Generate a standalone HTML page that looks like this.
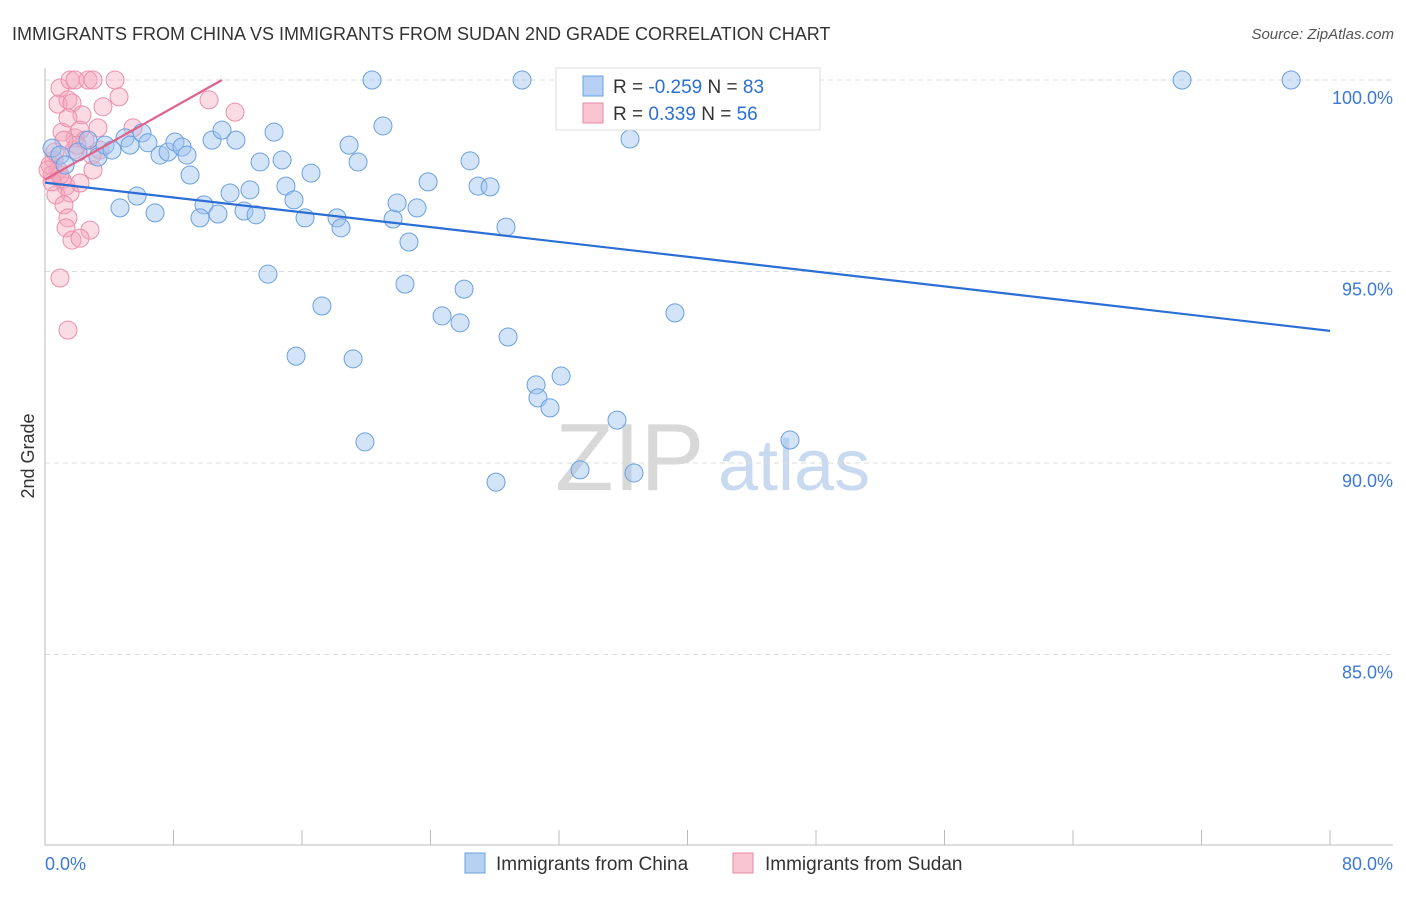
<!DOCTYPE html>
<html><head><meta charset="utf-8"><style>
body{margin:0;background:#fff;font-family:"Liberation Sans",sans-serif}
svg text{font-family:"Liberation Sans",sans-serif}
</style></head><body>
<svg id="chart" width="1406" height="892">
<text x="12" y="40" font-size="18" fill="#333">IMMIGRANTS FROM CHINA VS IMMIGRANTS FROM SUDAN 2ND GRADE CORRELATION CHART</text>
<text x="1394" y="39" font-size="15" fill="#555" font-style="italic" text-anchor="end">Source: ZipAtlas.com</text>
<text x="34" y="456" font-size="18" fill="#333" text-anchor="middle" transform="rotate(-90 34 456)">2nd Grade</text>
<text x="555" y="490" font-size="96" fill="#d8d8d8" font-family="Liberation Serif">ZIP</text>
<text x="718" y="490" font-size="72" fill="#c9daf0">atlas</text>
<g id="grid"></g><g id="pts"></g><g id="lines"></g>
<rect x="556" y="68" width="264" height="62" fill="#fff" stroke="#ddd"/>
<rect x="583" y="76" width="20" height="20" fill="#b5d0f2" stroke="#6aa0e0"/>
<text x="613" y="93" font-size="19" fill="#333">R = <tspan fill="#2b6fd6">-0.259</tspan>   N = <tspan fill="#2b6fd6">83</tspan></text>
<rect x="583" y="103" width="20" height="20" fill="#f9c4d2" stroke="#e88aa5"/>
<text x="613" y="120" font-size="19" fill="#333">R = <tspan fill="#2b6fd6">  0.339</tspan>   N = <tspan fill="#2b6fd6">56</tspan></text>
<rect x="465" y="853" width="20" height="20" fill="#b5d0f2" stroke="#6aa0e0"/>
<text x="496" y="870" font-size="19" fill="#333">Immigrants from China</text>
<rect x="733" y="853" width="20" height="20" fill="#f9c4d2" stroke="#e88aa5"/>
<text x="765" y="870" font-size="19" fill="#333">Immigrants from Sudan</text>
</svg>
<script>
const xTickLabels=["0.0%","80.0%"];
const yTicks=[100,95,90,85];
const yTickLabels=["100.0%","95.0%","90.0%","85.0%"];
const chinaX=[20.36,29.70,32.81,40.78,70.79,77.58,0.44,0.93,1.25,2.05,2.68,3.30,3.74,4.17,4.98,5.29,6.04,6.41,7.16,7.66,8.09,8.53,8.84,9.03,9.90,9.65,10.40,10.77,11.02,11.52,11.89,12.39,12.76,13.14,13.39,13.88,14.26,14.76,15.00,15.50,15.63,16.19,16.56,17.24,18.18,18.43,18.93,19.18,19.49,19.92,21.04,21.67,21.92,22.41,22.66,23.16,23.85,24.72,25.84,26.09,26.46,26.96,27.71,28.08,28.70,28.83,30.57,30.69,31.44,32.13,33.31,35.61,36.42,36.67,39.22,46.38,5.73,4.67,6.85];
const chinaY=[100,100,100,100,100,100,98.22,98.04,97.78,98.12,98.43,97.99,98.30,98.17,98.49,98.30,98.62,98.36,98.04,98.12,98.38,98.25,98.04,97.52,96.74,96.40,98.43,96.50,98.69,97.05,98.43,96.58,97.13,96.48,97.86,94.93,98.64,97.91,97.23,96.87,92.79,96.40,97.57,94.10,96.40,96.14,98.30,92.72,97.86,90.55,98.80,96.37,96.79,94.67,95.77,96.66,97.34,93.84,93.66,94.54,97.89,97.23,97.21,89.50,96.16,93.29,92.04,91.70,91.44,92.27,89.82,91.12,98.46,89.74,93.92,90.60,96.97,96.66,96.53];
const sudanX=[0.93,1.56,1.87,2.68,2.99,4.36,1.43,0.81,1.68,2.30,3.61,4.61,10.21,11.83,1.06,1.87,3.30,5.48,1.43,2.18,0.56,0.81,1.06,1.31,0.44,0.68,1.56,1.18,2.18,2.99,3.42,1.43,1.31,2.80,1.68,2.18,0.93,1.43,0.31,0.62,1.81,2.49,0.44,0.93,0.19,2.93,1.99,1.18];
const sudanY=[99.79,100,100,100,100,100,99.48,99.37,99.40,99.09,99.30,99.56,99.48,99.16,98.64,98.49,98.75,98.75,99.01,98.69,97.91,97.65,97.39,97.23,97.52,97.00,97.05,96.74,97.31,97.65,98.17,96.40,96.14,96.08,95.82,95.87,94.83,93.47,97.78,98.12,98.17,98.43,97.34,97.52,97.65,98.04,98.30,98.43];
const chinaTrend=[[0,97.32],[80,93.45]];
const sudanTrend=[[0,97.4],[11.02,100]];
const NS="http://www.w3.org/2000/svg";
const X=v=>45+v/80*1285, Y=v=>80+(100-v)*38.3;
function mk(t,a,p){const e=document.createElementNS(NS,t);for(const k in a)e.setAttribute(k,a[k]);p.appendChild(e);return e;}
const g=document.getElementById('grid');
yTicks.forEach((t,i)=>{
 const l=mk('line',{x1:45,x2:1393,y1:Y(t),y2:Y(t),stroke:'#ddd','stroke-dasharray':'5,4'},g);
 
 
 const tx=mk('text',{x:1393,y:Y(t)+24,'font-size':18,fill:'#3b78d8','text-anchor':'end'},g);
 tx.textContent=yTickLabels[i];
 
 
});
const ya=mk('line',{x1:45,x2:45,y1:68,y2:845,stroke:'#bbb'},g);


const xa=mk('line',{x1:45,x2:1393,y1:845,y2:845,stroke:'#bbb'},g);


for(let i=1;i<=10;i++){
 const tk=mk('line',{x1:X(i*8),x2:X(i*8),y1:830,y2:845,stroke:'#bbb'},g);
 
 
}
[[0,'start',45],[80,'end',1393]].forEach((d,i)=>{
 const tx=mk('text',{x:d[2],y:870,'font-size':18,fill:'#3b78d8','text-anchor':d[1]},g);
 tx.textContent=xTickLabels[i];
 
 
});
const p=document.getElementById('pts');
sudanX.forEach((v,i)=>{
 const c=mk('circle',{cx:X(v),cy:Y(sudanY[i]),r:9,fill:'rgba(245,165,188,0.4)',stroke:'#ec8fab','stroke-width':1},p);
 
 
});
chinaX.forEach((v,i)=>{
 const c=mk('circle',{cx:X(v),cy:Y(chinaY[i]),r:9,fill:'rgba(160,196,240,0.45)',stroke:'#6aa0e0','stroke-width':1},p);
 
 
});
const L=document.getElementById('lines');
const bl=mk('line',{x1:X(chinaTrend[0][0]),y1:Y(chinaTrend[0][1]),x2:X(chinaTrend[1][0]),y2:Y(chinaTrend[1][1]),stroke:'#2b6fd6','stroke-width':2.2},L);


const pl=mk('line',{x1:X(sudanTrend[0][0]),y1:Y(sudanTrend[0][1]),x2:X(sudanTrend[1][0]),y2:Y(sudanTrend[1][1]),stroke:'#e0628a','stroke-width':2.2},L);


</script>
</body></html>
